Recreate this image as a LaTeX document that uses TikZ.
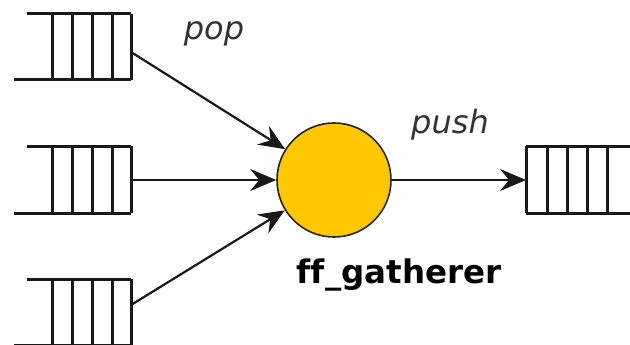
\documentclass[tikz,border=0pt]{standalone}
\usepackage{fontspec}
\setmainfont[Ligatures=NoCommon]{DejaVu Sans}
\usetikzlibrary{arrows.meta}
\definecolor{hubyellow}{RGB}{255,200,0}
\begin{document}
\begin{tikzpicture}[x=1pt,y=-1pt,
  qline/.style={line width=3pt,black!90},
  flow/.style={line width=2.2pt,black!90,-{Stealth[length=26pt,width=22pt,inset=9pt]}},
  hubstyle/.style={circle,draw=black!85,line width=1.6pt,fill=hubyellow,minimum size=114pt,inner sep=0pt},
  lbl/.style={font=\fontsize{32}{38}\selectfont\itshape,text=black!80,anchor=base},
  hublabel/.style={font=\fontsize{32.5}{38}\selectfont\bfseries,anchor=base}]
  \useasboundingbox (0,0) rectangle (630,345);

  % input queues: cells open to the left, closed on the right
  \foreach \t/\b in {14/80, 146/213, 279/345}{
    \draw[qline] (27,\t) -- (131,\t);
    \draw[qline] (14,\b) -- (131,\b);
    \foreach \x in {52,72,92,112,131}
      \draw[qline] (\x,\t) -- (\x,\b);
  }
  % output queue: closed on the left, open to the right
  \draw[qline] (526,146) -- (632,146);
  \draw[qline] (526,213) -- (632,213);
  \foreach \x in {526,547,567,587,607}
    \draw[qline] (\x,146) -- (\x,213);

  % queue ports
  \coordinate (q1) at (131,52);
  \coordinate (q2) at (131,180);
  \coordinate (q3) at (131,305);
  \coordinate (qout) at (526,180);

  \node[hubstyle] (hub) at (334,180) {};

  \draw[flow] (q1) -- (hub);
  \draw[flow] (q2) -- (hub);
  \draw[flow] (q3) -- (hub);
  \draw[flow] (hub) -- (qout);

  \node[lbl] (pop) at (214,40) {pop};
  \node[lbl] (push) at (450,133) {push};
  \node[hublabel] (hubname) at (399,283) {ff\_gatherer};
\end{tikzpicture}
\end{document}
